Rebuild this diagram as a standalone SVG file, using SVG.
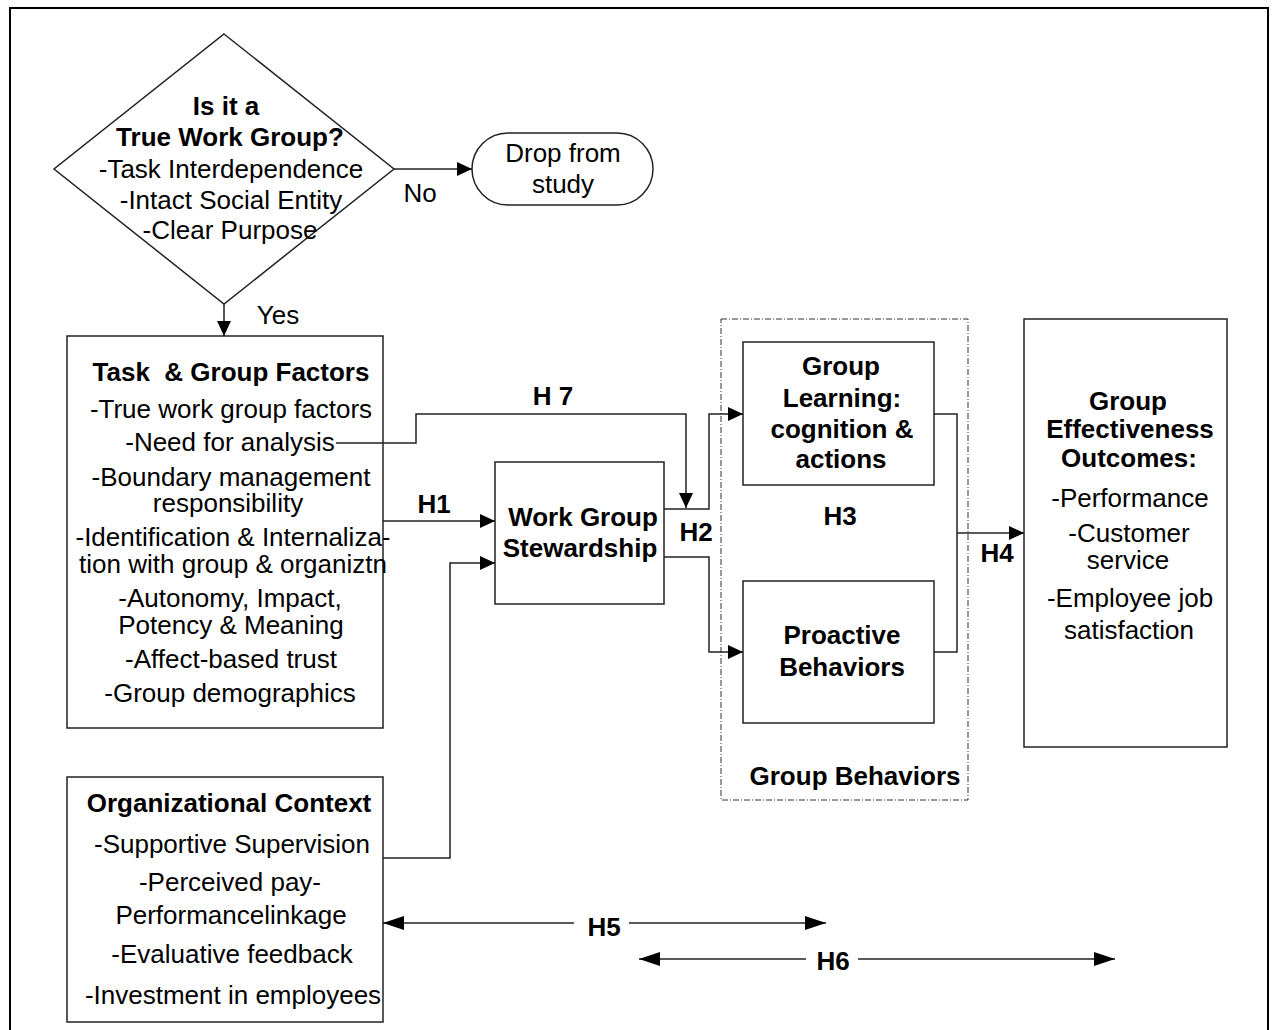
<svg xmlns="http://www.w3.org/2000/svg" width="1276" height="1030" viewBox="0 0 1276 1030">
<style>
text{font-family:"Liberation Sans",Arial,sans-serif;font-size:26px;fill:#000;text-anchor:middle}
.b{font-weight:bold}
.box{fill:#fff;stroke:#222;stroke-width:1.5}
.ln{fill:none;stroke:#222;stroke-width:1.5}
</style>
<defs>
<marker id="ah" markerUnits="userSpaceOnUse" markerWidth="16" markerHeight="14" refX="15" refY="7" orient="auto">
<path d="M0,0 L15,7 L0,14 z" fill="#000"/>
</marker>
<marker id="ahb" markerUnits="userSpaceOnUse" markerWidth="22" markerHeight="16" refX="21" refY="8" orient="auto-start-reverse">
<path d="M0,1 L21,8 L0,15 z" fill="#000"/>
</marker>
</defs>
<rect x="0" y="0" width="1276" height="1030" fill="#fff"/>
<rect x="10" y="8" width="1258" height="1040" fill="none" stroke="#000" stroke-width="2"/>

<g id="decision">
<polygon class="box" points="224,34 394,169 224,304 54,169"/>
<text class="b" x="226" y="115">Is it a</text>
<text class="b" x="230" y="146">True Work Group?</text>
<text x="231" y="178">-Task Interdependence</text>
<text x="231" y="209">-Intact Social Entity</text>
<text x="230" y="239">-Clear Purpose</text>
</g>

<g id="drop">
<rect class="box" x="472" y="133" width="181" height="72" rx="36" ry="36"/>
<text x="563" y="162">Drop from<tspan x="563" y="193">study</tspan></text>
</g>

<g id="task-group-factors">
<rect class="box" x="67" y="336" width="316" height="392"/>
<text class="b" x="231" y="381" xml:space="preserve">Task  &amp; Group Factors</text>
<text x="231" y="418">-True work group factors</text>
<text x="230" y="451">-Need for analysis</text>
<text x="231" y="486">-Boundary management<tspan x="228" y="512">responsibility</tspan></text>
<text x="233" y="546">-Identification &amp; Internaliza-<tspan x="233" y="573">tion with group &amp; organiztn</tspan></text>
<text x="230" y="607">-Autonomy, Impact,<tspan x="231" y="634">Potency &amp; Meaning</tspan></text>
<text x="231" y="668">-Affect-based trust</text>
<text x="230" y="702">-Group demographics</text>
</g>

<g id="org-context">
<rect class="box" x="67" y="777" width="316" height="245"/>
<text class="b" x="229" y="812">Organizational Context</text>
<text x="232" y="853">-Supportive Supervision</text>
<text x="230" y="891">-Perceived pay-<tspan x="231" y="924">Performancelinkage</tspan></text>
<text x="232" y="963">-Evaluative feedback</text>
<text x="233" y="1004">-Investment in employees</text>
</g>

<g id="stewardship">
<rect class="box" x="495" y="462" width="169" height="142"/>
<text class="b" x="583" y="526">Work Group<tspan x="580" y="557">Stewardship</tspan></text>
</g>

<g id="group-behaviors">
<rect x="721" y="319" width="247" height="481" fill="none" stroke="#333" stroke-width="1" stroke-dasharray="6,2,1,2"/>
<text class="b" x="855" y="785">Group Behaviors</text>
</g>

<g id="group-learning">
<rect class="box" x="743" y="342" width="191" height="143"/>
<text class="b" x="841" y="375">Group<tspan x="842" y="407">Learning:</tspan><tspan x="842" y="438">cognition &amp;</tspan><tspan x="841" y="468">actions</tspan></text>
</g>

<g id="proactive">
<rect class="box" x="743" y="581" width="191" height="142"/>
<text class="b" x="842" y="644">Proactive<tspan x="842" y="676">Behaviors</tspan></text>
</g>

<g id="outcomes">
<rect class="box" x="1024" y="319" width="203" height="428"/>
<text class="b" x="1128" y="410">Group<tspan x="1130" y="438">Effectiveness</tspan><tspan x="1129" y="467">Outcomes:</tspan></text>
<text x="1130" y="507">-Performance</text>
<text x="1129" y="542">-Customer<tspan x="1128" y="569">service</tspan></text>
<text x="1130" y="607">-Employee job<tspan x="1129" y="639">satisfaction</tspan></text>
</g>

<g id="connectors">
<line class="ln" x1="394" y1="169" x2="472" y2="169" marker-end="url(#ah)"/>
<line class="ln" x1="224" y1="304" x2="224" y2="336" marker-end="url(#ah)"/>
<polyline class="ln" points="336,443 416,443 416,414 686,414 686,508" marker-end="url(#ah)"/>
<line class="ln" x1="383" y1="521" x2="495" y2="521" marker-end="url(#ah)"/>
<polyline class="ln" points="383,858 450,858 450,563 495,563" marker-end="url(#ah)"/>
<polyline class="ln" points="664,509 709,509 709,414 743,414" marker-end="url(#ah)"/>
<polyline class="ln" points="664,557 709,557 709,652 743,652" marker-end="url(#ah)"/>
<polyline class="ln" points="934,414 957,414 957,652 934,652"/>
<line class="ln" x1="957" y1="533" x2="1024" y2="533" marker-end="url(#ah)"/>
<line class="ln" x1="574" y1="923" x2="383" y2="923" marker-end="url(#ahb)"/>
<line class="ln" x1="629" y1="923" x2="826" y2="923" marker-end="url(#ahb)"/>
<line class="ln" x1="806" y1="959" x2="639" y2="959" marker-end="url(#ahb)"/>
<line class="ln" x1="858" y1="959" x2="1115" y2="959" marker-end="url(#ahb)"/>
<text x="420" y="202">No</text>
<text x="278" y="324">Yes</text>
<text class="b" x="553" y="405">H 7</text>
<text class="b" x="434" y="513">H1</text>
<text class="b" x="696" y="541">H2</text>
<text class="b" x="840" y="525">H3</text>
<text class="b" x="997" y="562">H4</text>
<text class="b" x="604" y="936">H5</text>
<text class="b" x="833" y="970">H6</text>
</g>
</svg>
